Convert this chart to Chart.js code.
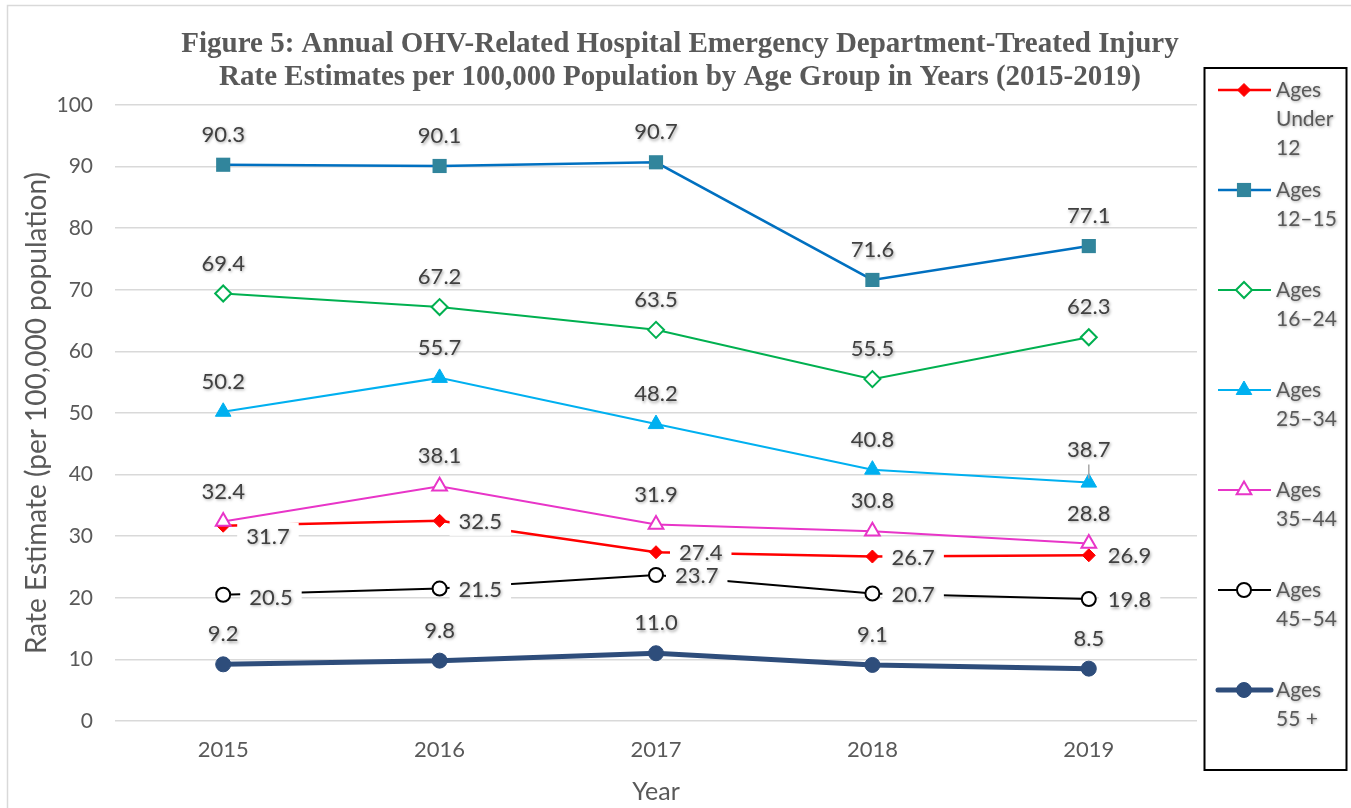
<!DOCTYPE html>
<html>
<head>
<meta charset="utf-8">
<script src="https://cdn.jsdelivr.net/npm/chart.js@4.4.1/dist/chart.umd.min.js"></script>
<style>
  body { margin: 0; background: #fff; }
  #wrap { width: 1351px; height: 808px; position: relative; }
</style>
</head>
<body>
<div id="wrap"><canvas id="myChart1"></canvas></div>
<script>
// datos
const years = ['2015', '2016', '2017', '2018', '2019'];
const agesUnder12 = [31.7, 32.5, 27.4, 26.7, 26.9];
const ages12to15 = [90.3, 90.1, 90.7, 71.6, 77.1];
const ages16to24 = [69.4, 67.2, 63.5, 55.5, 62.3];
const ages25to34 = [50.2, 55.7, 48.2, 40.8, 38.7];
const ages35to44 = [32.4, 38.1, 31.9, 30.8, 28.8];
const ages45to54 = [20.5, 21.5, 23.7, 20.7, 19.8];
const ages55plus = [9.2, 9.8, 11.0, 9.1, 8.5];
const yTicks = [0, 10, 20, 30, 40, 50, 60, 70, 80, 90, 100];

const titleLines = [
  'Figure 5: Annual OHV-Related Hospital Emergency Department-Treated Injury',
  'Rate Estimates per 100,000 Population by Age Group in Years (2015-2019)'
];

const gray = '#595959';
const ctx = document.getElementById('myChart1');

// fondo, borde y titulo
const frame = {
  id: 'frame',
  beforeDraw(chart) {
    const c = chart.ctx;
    c.save();
    c.fillStyle = '#fff';
    c.fillRect(0, 0, chart.width, chart.height);
    c.strokeStyle = '#D9D9D9';
    c.lineWidth = 1.5;
    c.strokeRect(7.5, 5.5, chart.width + 20, chart.height + 20);
    c.fillStyle = gray;
    c.font = 'bold 29px "Liberation Serif"';
    c.textAlign = 'center';
    c.textBaseline = 'middle';
    c.fillText(titleLines[0], 680, 45);
    c.fillText(titleLines[1], 680, 78);
    c.restore();
  }
};

// etiquetas de valores
const pointLabels = {
  id: 'pointLabels',
  afterDatasetsDraw(chart) {
    const c = chart.ctx;
    c.save();
    c.font = '22px Lato';
    c.textBaseline = 'middle';
    chart.data.datasets.forEach((ds, i) => {
      const meta = chart.getDatasetMeta(i);
      meta.data.forEach((pt, j) => {
        const txt = ds.data[j].toFixed(1);
        const w = c.measureText(txt).width;
        let x, y;
        if (ds.labelPos === 'right') {
          const nudge = (ds.labelNudge && ds.labelNudge[j]) || [0, 0];
          x = pt.x + 19 + nudge[0];
          y = pt.y + 1 + nudge[1];
          c.shadowColor = 'transparent';
          c.fillStyle = '#fff';
          c.fillRect(x - 9, y - 14, w + 18, 28);
          c.textAlign = 'left';
        } else {
          x = pt.x;
          y = pt.y - 30;
          c.textAlign = 'center';
          if (ds.leader && ds.leader[j]) {
            c.shadowColor = 'transparent';
            c.strokeStyle = '#A6A6A6';
            c.lineWidth = 1.5;
            c.beginPath();
            c.moveTo(pt.x, y + 12);
            c.lineTo(pt.x, pt.y - 4);
            c.stroke();
            y -= 3;
          }
        }
        c.shadowColor = 'rgba(0,0,0,0.35)';
        c.shadowBlur = 3;
        c.shadowOffsetX = 1;
        c.shadowOffsetY = 1.5;
        c.fillStyle = '#404040';
        c.fillText(txt, x, y);
      });
    });
    c.restore();
  }
};

// leyenda a la derecha
const sideLegend = {
  id: 'sideLegend',
  afterDraw(chart) {
    const c = chart.ctx;
    c.save();
    c.strokeStyle = '#000';
    c.lineWidth = 2;
    c.strokeRect(1204.5, 68, 142, 702);
    chart.data.datasets.forEach((ds, i) => {
      const y = 90 + i * 100;
      c.shadowColor = 'transparent';
      c.strokeStyle = ds.borderColor;
      c.lineWidth = ds.borderWidth;
      c.lineCap = ds.borderWidth > 3 ? 'round' : 'butt';
      c.beginPath();
      c.moveTo(1218, y);
      c.lineTo(1271, y);
      c.stroke();
      c.fillStyle = ds.pointBackgroundColor;
      c.strokeStyle = ds.pointBorderColor;
      c.lineWidth = ds.pointBorderWidth;
      Chart.helpers.drawPoint(c, {
        pointStyle: ds.pointStyle,
        radius: ds.pointRadius,
        borderWidth: ds.pointBorderWidth,
        rotation: 0
      }, 1244, y);
      c.shadowColor = 'rgba(0,0,0,0.35)';
      c.shadowBlur = 3;
      c.shadowOffsetX = 1;
      c.shadowOffsetY = 1.5;
      c.fillStyle = gray;
      c.font = '21px Lato';
      c.textAlign = 'left';
      c.textBaseline = 'middle';
      ds.legendLines.forEach((t, k) => c.fillText(t, 1276, y + k * 29));
    });
    c.restore();
  }
};

function serie(label, legendLines, data, color, style, radius, fill, bw, lw) {
  return {
    label: label,
    legendLines: legendLines,
    data: data,
    borderColor: color,
    backgroundColor: color,
    borderWidth: lw,
    pointStyle: style,
    pointRadius: radius,
    pointHoverRadius: radius,
    pointBackgroundColor: fill,
    pointBorderColor: color,
    pointBorderWidth: bw,
    tension: 0
  };
}

const datasets = [
  serie('Ages Under 12', ['Ages', 'Under', '12'], agesUnder12, '#FF0000', 'rectRot', 6.5, '#FF0000', 1, 2.5),
  serie('Ages 12–15', ['Ages', '12–15'], ages12to15, '#0070C0', 'rect', 10, '#31859C', 0, 2.5),
  serie('Ages 16–24', ['Ages', '16–24'], ages16to24, '#00B050', 'rectRot', 8, '#FFFFFF', 2, 2),
  serie('Ages 25–34', ['Ages', '25–34'], ages25to34, '#00B0F0', 'triangle', 9, '#00B0F0', 1, 2),
  serie('Ages 35–44', ['Ages', '35–44'], ages35to44, '#E835C8', 'triangle', 8.5, '#FFFFFF', 2, 2),
  serie('Ages 45–54', ['Ages', '45–54'], ages45to54, '#000000', 'circle', 7, '#FFFFFF', 2, 2),
  serie('Ages 55 +', ['Ages', '55 +'], ages55plus, '#2E4D7B', 'circle', 7.5, '#2E4D7B', 1, 5)
];
datasets[1].pointBorderColor = '#31859C';
datasets[0].labelPos = 'right';
datasets[0].labelNudge = [[4, 10], [0, 0], [4, 0], [0, 0], [0, 0]];
datasets[5].labelPos = 'right';
datasets[5].labelNudge = [[7, 2], [0, 0], [0, 0], [0, 0], [0, 0]];
datasets[3].leader = [false, false, false, false, true];
// las series posteriores quedan encima, como en Excel
datasets.forEach((d, i) => { d.order = datasets.length - i; });

new Chart(ctx, {
  type: 'line',
  data: {
    labels: years,
    datasets: datasets
  },
  options: {
    responsive: true,
    maintainAspectRatio: false,
    animation: false,
    layout: { padding: { left: 0, top: 105, right: 154, bottom: 0 } },
    plugins: {
      legend: { display: false },
      title: { display: false },
      tooltip: { enabled: false }
    },
    scales: {
      x: {
        offset: true,
        grid: { display: false, drawTicks: false },
        border: { display: false },
        ticks: { font: { family: 'Lato', size: 22 }, color: gray, padding: 16 },
        title: {
          display: true,
          text: 'Year',
          font: { family: 'Lato', size: 25 },
          color: gray,
          padding: { top: 0, bottom: 1 }
        },
        afterFit(s) { s.height = 87; }
      },
      y: {
        min: yTicks[0],
        max: yTicks[yTicks.length - 1],
        afterBuildTicks(s) { s.ticks = yTicks.map(v => ({ value: v })); },
        grid: { color: '#D9D9D9', lineWidth: 1.5, drawTicks: false },
        border: { display: false },
        ticks: { font: { family: 'Lato', size: 21 }, color: gray, padding: 22 },
        title: {
          display: true,
          text: 'Rate Estimate (per 100,000 population)',
          font: { family: 'Lato', size: 28 },
          color: gray,
          padding: { top: 20, bottom: 0 }
        },
        afterFit(s) { s.width = 115; }
      }
    }
  },
  plugins: [frame, pointLabels, sideLegend]
});
</script>
</body>
</html>
